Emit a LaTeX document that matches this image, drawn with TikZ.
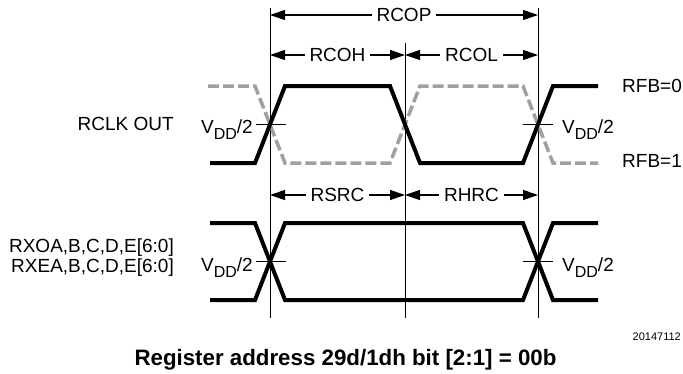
\documentclass[tikz,border=0pt]{standalone}
\usepackage{fontspec}
\setmainfont{Liberation Sans}
\usetikzlibrary{arrows.meta,positioning,calc}
\definecolor{dashgray}{RGB}{160,160,160}

\newcommand{\vddhalf}{V\raisebox{-6pt}{\fontsize{16}{16}\selectfont DD}/2}

\begin{document}
\begin{tikzpicture}[x=1pt, y=-1pt,
    lbl/.style={font=\fontsize{19}{20}\selectfont, inner sep=0pt},
    dimarrow/.style={{Triangle[length=15pt,width=10pt]}-{Triangle[length=15pt,width=10pt]}, line width=1.1pt},
    dimlbl/.style={lbl, fill=white, inner xsep=5pt, inner ysep=2pt},
    guide/.style={line width=0.9pt},
    sig/.style={line width=4pt},
    sigdash/.style={line width=3.5pt, dashgray, dash pattern=on 11pt off 4pt},
    vtick/.style={line width=0.9pt}]
  \useasboundingbox (0,0) rectangle (683,373);

  % Guide lines
  \coordinate (ga) at (270,8);   \coordinate (gab) at (270,318);
  \coordinate (gb) at (405,43);  \coordinate (gbb) at (405,318);
  \coordinate (gc) at (538,8);   \coordinate (gcb) at (538,318);
  \draw[guide] (ga) -- (gab);
  \draw[guide] (gb) -- (gbb);
  \draw[guide] (gc) -- (gcb);

  % Timing arrows
  \coordinate (pa) at (270,15);  \coordinate (pc) at (538,15);
  \coordinate (ha) at (270,55);  \coordinate (hb) at (405,55);  \coordinate (hc) at (538,55);
  \coordinate (sa) at (270,195); \coordinate (sb) at (405,195); \coordinate (sc) at (538,195);
  \draw[dimarrow] (pa) -- (pc) node[dimlbl, midway] (rcop) {RCOP};
  \draw[dimarrow] (ha) -- (hb) node[dimlbl, midway] (rcoh) {RCOH};
  \draw[dimarrow] (hb) -- (hc) node[dimlbl, midway] (rcol) {RCOL};
  \draw[dimarrow] (sa) -- (sb) node[dimlbl, midway] (rsrc) {RSRC};
  \draw[dimarrow] (sb) -- (sc) node[dimlbl, midway] (rhrc) {RHRC};

  % RCLK OUT
  \draw[sigdash] (208,86) -- (255,86) -- (285,163) -- (390,163) -- (420,86) -- (523,86) -- (553,163) -- (598,163);
  \draw[sig] (210,163) -- (255,163) -- (285,86) -- (390,86) -- (420,163) -- (523,163) -- (553,86) -- (598,86);
  \draw[vtick] (256,124) -- (286,124);
  \draw[vtick] (523,124) -- (553,124);
  \node[lbl, anchor=east] (clk) at (174,124) {RCLK OUT};
  \node[lbl, anchor=base east] (vclkl) at (253,133) {\vddhalf};
  \node[lbl, anchor=base west] (vclkr) at (562,133) {\vddhalf};
  \node[lbl, anchor=west] (rfb0) at (622,86) {RFB=0};
  \node[lbl, anchor=west] (rfb1) at (622,161) {RFB=1};

  % Data outputs
  \draw[sig] (210,223) -- (255,223) -- (285,300) -- (523,300) -- (553,223) -- (598,223);
  \draw[sig] (210,300) -- (255,300) -- (285,223) -- (523,223) -- (553,300) -- (598,300);
  \draw[vtick] (256,261.5) -- (286,261.5);
  \draw[vtick] (523,261.5) -- (553,261.5);
  \node[lbl, anchor=east, align=right] (rxd) at (174,258) {RXOA,B,C,D,E[6:0]\\RXEA,B,C,D,E[6:0]};
  \node[lbl, anchor=base east] (vdatl) at (253,271) {\vddhalf};
  \node[lbl, anchor=base west] (vdatr) at (562,271) {\vddhalf};

  % Caption
  \node[font=\fontsize{11}{13}\selectfont, inner sep=0pt, anchor=base east] (fig) at (681,340) {20147112};
  \node[font=\bfseries\fontsize{22.3}{24}\selectfont, inner sep=0pt, anchor=base] (title) at (345.5,365) {Register address 29d/1dh bit [2:1] = 00b};
\end{tikzpicture}
\end{document}
